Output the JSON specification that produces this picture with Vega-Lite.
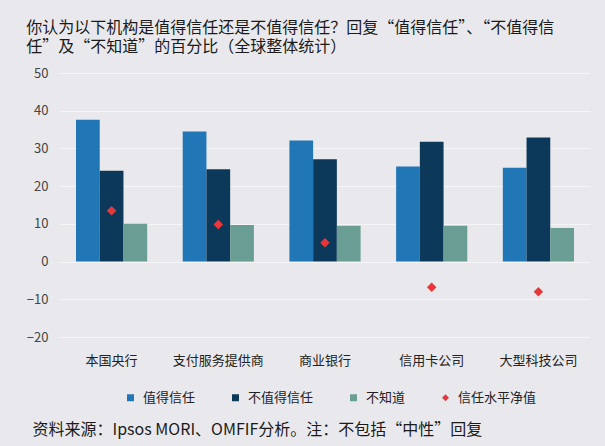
{
  "$schema": "https://vega.github.io/schema/vega-lite/v6.json",
  "background": "#e9e9ed",
  "autosize": {"type": "none"},
  "padding": {"left": 60, "top": 73, "right": 15, "bottom": 109},
  "width": 530,
  "height": 264,
  "title": {
    "text": ["你认为以下机构是值得信任还是不值得信任？回复“值得信任”、“不值得信", "任”及“不知道”的百分比（全球整体统计）"],
    "anchor": "start",
    "frame": "bounds",
    "fontSize": 16,
    "lineHeight": 19,
    "font": "Noto Sans CJK SC",
    "fontWeight": "normal",
    "color": "#1a1a1a",
    "offset": 12
  },
  "data": {
    "values": [
      {"inst": "本国央行", "series": "值得信任", "value": 37.6},
      {"inst": "本国央行", "series": "不值得信任", "value": 24.1},
      {"inst": "本国央行", "series": "不知道", "value": 10.0},
      {"inst": "本国央行", "series": "信任水平净值", "value": 13.5},
      {"inst": "支付服务提供商", "series": "值得信任", "value": 34.5},
      {"inst": "支付服务提供商", "series": "不值得信任", "value": 24.5},
      {"inst": "支付服务提供商", "series": "不知道", "value": 9.7},
      {"inst": "支付服务提供商", "series": "信任水平净值", "value": 9.8},
      {"inst": "商业银行", "series": "值得信任", "value": 32.1},
      {"inst": "商业银行", "series": "不值得信任", "value": 27.1},
      {"inst": "商业银行", "series": "不知道", "value": 9.5},
      {"inst": "商业银行", "series": "信任水平净值", "value": 5.0},
      {"inst": "信用卡公司", "series": "值得信任", "value": 25.2},
      {"inst": "信用卡公司", "series": "不值得信任", "value": 31.8},
      {"inst": "信用卡公司", "series": "不知道", "value": 9.5},
      {"inst": "信用卡公司", "series": "信任水平净值", "value": -6.8},
      {"inst": "大型科技公司", "series": "值得信任", "value": 24.9},
      {"inst": "大型科技公司", "series": "不值得信任", "value": 32.9},
      {"inst": "大型科技公司", "series": "不知道", "value": 8.9},
      {"inst": "大型科技公司", "series": "信任水平净值", "value": -8.0}
    ]
  },
  "layer": [
    {
      "transform": [{"filter": "datum.series !== '信任水平净值'"}],
      "mark": {"type": "bar"},
      "encoding": {
        "x": {
          "field": "inst", "type": "nominal",
          "sort": ["本国央行", "支付服务提供商", "商业银行", "信用卡公司", "大型科技公司"],
          "scale": {"paddingInner": 0.333, "paddingOuter": 0.15},
          "axis": {
            "title": "资料来源：Ipsos MORI、OMFIF分析。注：不包括“中性”回复",
            "titleFont": "Noto Sans CJK SC", "titleFontSize": 16, "titleFontWeight": "normal", "titleColor": "#1a1a1a",
            "titleAnchor": "start", "titleAlign": "left", "titleBaseline": "middle", "titleX": -28, "titleY": 92,
            "labelAngle": 0, "labelFontSize": 13, "labelFont": "Noto Sans CJK SC", "labelPadding": 17, "labelColor": "#222",
            "domain": false, "ticks": false, "grid": false
          }
        },
        "xOffset": {
          "field": "series", "type": "nominal",
          "sort": ["值得信任", "不值得信任", "不知道"],
          "scale": {"paddingInner": 0, "paddingOuter": 0}
        },
        "y": {
          "field": "value", "type": "quantitative",
          "scale": {"domain": [-20, 50], "nice": false, "zero": false},
          "axis": {"title": null, "values": [-20, -10, 0, 10, 20, 30, 40, 50], "tickCount": 12, "labelOverlap": false, "labelFontSize": 13, "labelFont": "Noto Sans CJK SC", "labelColor": "#444", "labelPadding": 12, "domain": false, "ticks": false, "grid": true, "gridColor": "#f6f6f8", "gridWidth": 1}
        },
        "color": {
          "field": "series", "type": "nominal",
          "scale": {"domain": ["值得信任", "不值得信任", "不知道", "信任水平净值"], "range": ["#2176b5", "#0c395a", "#6a9d93", "#e8373a"]},
          "legend": {"title": null, "orient": "none", "legendX": 64, "legendY": 318, "direction": "horizontal", "symbolSize": 49, "symbolStrokeWidth": 0, "labelFontSize": 13, "labelFont": "Noto Sans CJK SC", "labelColor": "#222", "columnPadding": 33, "labelOffset": 6, "padding": 0}
        }
      }
    },
    {
      "transform": [{"filter": "datum.series === '信任水平净值'"}],
      "mark": {"type": "point", "filled": true, "opacity": 1, "size": 90, "strokeWidth": 0},
      "encoding": {
        "x": {"field": "inst", "type": "nominal", "sort": ["本国央行", "支付服务提供商", "商业银行", "信用卡公司", "大型科技公司"]},
        "y": {
          "field": "value", "type": "quantitative",
          "axis": {"title": null, "values": [-20, -10, 0, 10, 20, 30, 40, 50], "tickCount": 12, "labelOverlap": false, "labelFontSize": 13, "labelFont": "Noto Sans CJK SC", "labelColor": "#444", "labelPadding": 12, "domain": false, "ticks": false, "grid": true, "gridColor": "#f6f6f8", "gridWidth": 1}
        },
        "color": {
          "field": "series", "type": "nominal",
          "scale": {"domain": ["值得信任", "不值得信任", "不知道", "信任水平净值"], "range": ["#2176b5", "#0c395a", "#6a9d93", "#e8373a"]},
          "legend": {"title": null, "orient": "none", "legendX": 64, "legendY": 318, "direction": "horizontal", "symbolSize": 49, "symbolStrokeWidth": 0, "labelFontSize": 13, "labelFont": "Noto Sans CJK SC", "labelColor": "#222", "columnPadding": 33, "labelOffset": 6, "padding": 0}
        },
        "shape": {
          "field": "series", "type": "nominal",
          "scale": {"domain": ["值得信任", "不值得信任", "不知道", "信任水平净值"], "range": ["square", "square", "square", "diamond"]},
          "legend": {"title": null, "orient": "none", "legendX": 64, "legendY": 318, "direction": "horizontal", "symbolSize": 49, "symbolStrokeWidth": 0, "labelFontSize": 13, "labelFont": "Noto Sans CJK SC", "labelColor": "#222", "columnPadding": 33, "labelOffset": 6, "padding": 0}
        }
      }
    }
  ],
  "config": {
    "view": {"stroke": null},
    "font": "Noto Sans CJK SC",
    "axisY": {"labelOverlap": false}
  }
}
